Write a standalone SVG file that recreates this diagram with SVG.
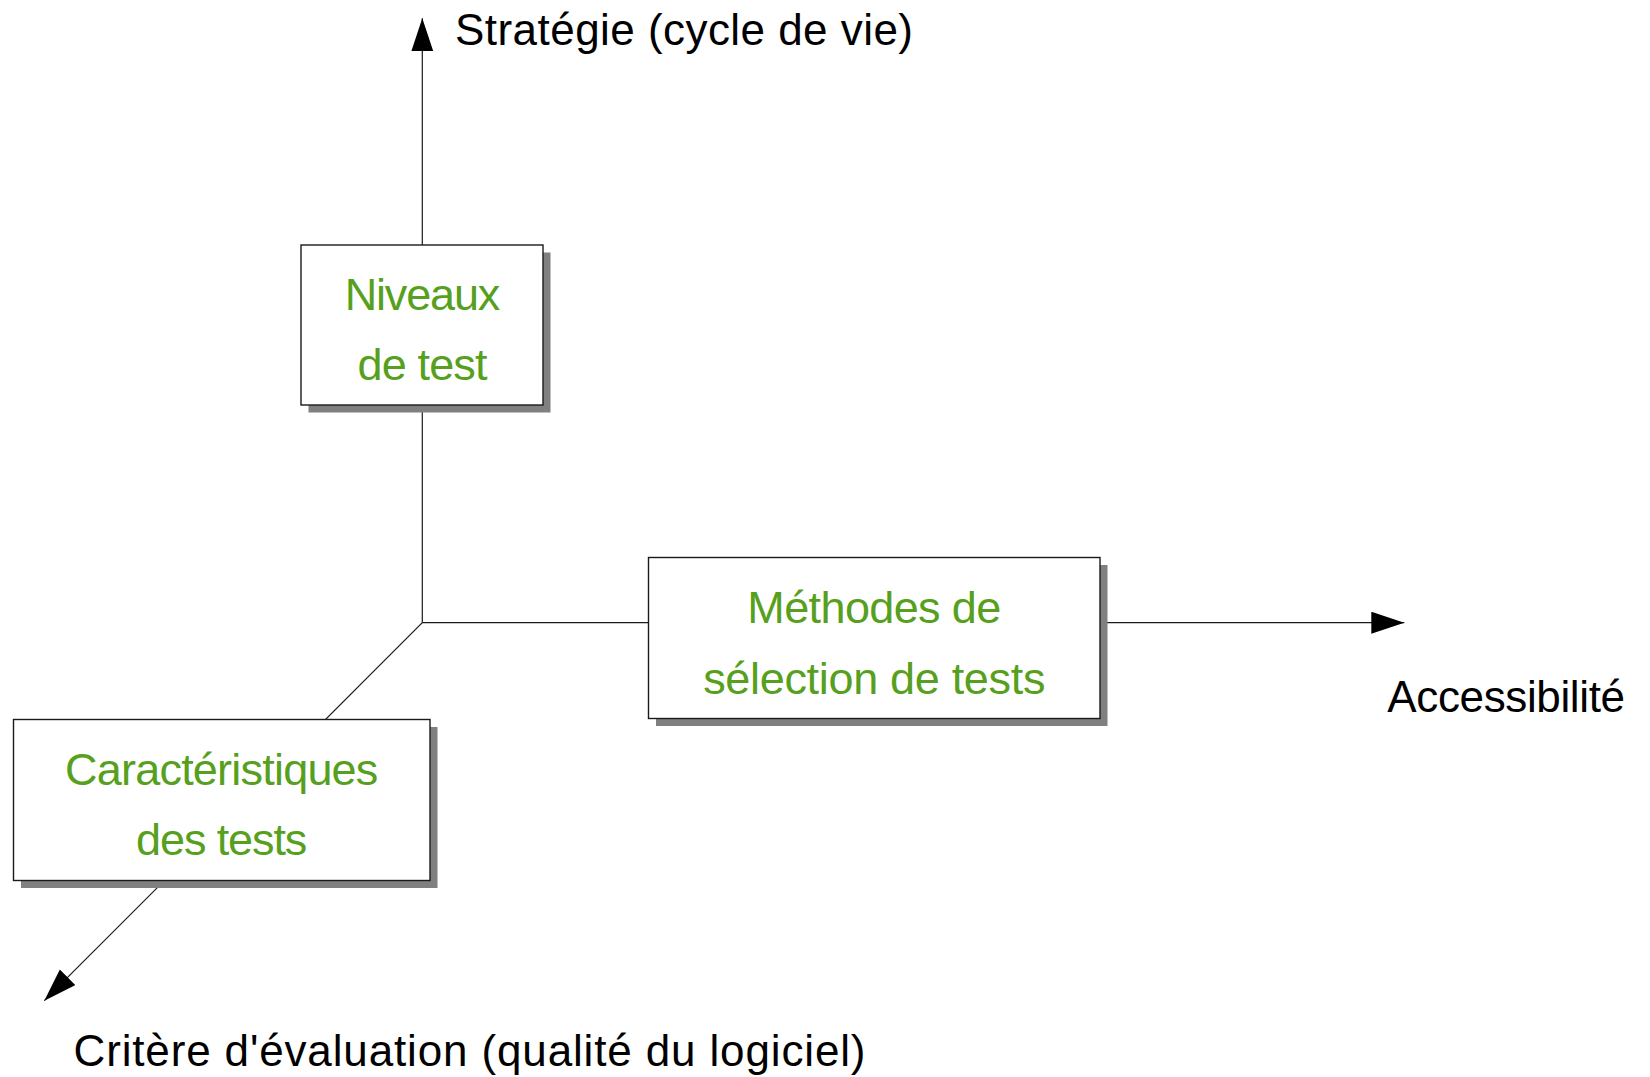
<svg xmlns="http://www.w3.org/2000/svg" width="1650" height="1077" viewBox="0 0 1650 1077">
  <style>
    .axis { stroke: #1a1a1a; stroke-width: 1.2; fill: none; }
    .box { fill: #ffffff; stroke: #1a1a1a; stroke-width: 1.4; }
    .shadow { fill: #808080; stroke: none; }
    .label { font-family: "Liberation Sans", Arial, sans-serif; font-size: 44px; fill: #000000; }
    .node-text { font-family: "Liberation Sans", Arial, sans-serif; font-size: 45px; fill: #56a01e; text-anchor: middle; }
  </style>
  <defs>
    <marker id="arrow" markerUnits="userSpaceOnUse" markerWidth="34" markerHeight="23" refX="33" refY="11" orient="auto">
      <path d="M0,0 L33,11 L0,22 z" fill="#000000"/>
    </marker>
  </defs>

  <rect width="1650" height="1077" fill="#ffffff"/>

  <!-- three axes leaving a common origin -->
  <g id="connectors">
    <line class="axis" x1="422.3" y1="622.7" x2="422.3" y2="18.3" marker-end="url(#arrow)"/>
    <line class="axis" x1="422.3" y1="622.7" x2="1404.3" y2="622.7" marker-end="url(#arrow)"/>
    <line class="axis" x1="422.3" y1="622.7" x2="44.3" y2="1000.7" marker-end="url(#arrow)"/>
  </g>

  <!-- axis titles -->
  <text class="label" x="455" y="45" textLength="458">Stratégie (cycle de vie)</text>
  <text class="label" x="1387.3" y="711.7" textLength="237.7">Accessibilité</text>
  <text class="label" x="73.5" y="1065.5" textLength="792">Critère d'évaluation (qualité du logiciel)</text>

  <g id="niveaux">
    <rect class="shadow" x="308.5" y="252.5" width="242" height="160"/>
    <rect class="box" x="301" y="245" width="242" height="160"/>
    <text class="node-text" x="422.5" y="310" textLength="155.7">Niveaux</text>
    <text class="node-text" x="422.5" y="380" textLength="130">de test</text>
  </g>

  <g id="methodes">
    <rect class="shadow" x="656" y="565" width="451.5" height="161"/>
    <rect class="box" x="648.5" y="557.5" width="451.5" height="161"/>
    <text class="node-text" x="874.3" y="622.7" textLength="254">Méthodes de</text>
    <text class="node-text" x="874.3" y="694.3" textLength="342.3">sélection de tests</text>
  </g>

  <g id="caracteristiques">
    <rect class="shadow" x="21" y="727" width="416.5" height="161"/>
    <rect class="box" x="13.5" y="719.5" width="416.5" height="161"/>
    <text class="node-text" x="221.7" y="785" textLength="313.3">Caractéristiques</text>
    <text class="node-text" x="221.7" y="855" textLength="171.3">des tests</text>
  </g>
</svg>
